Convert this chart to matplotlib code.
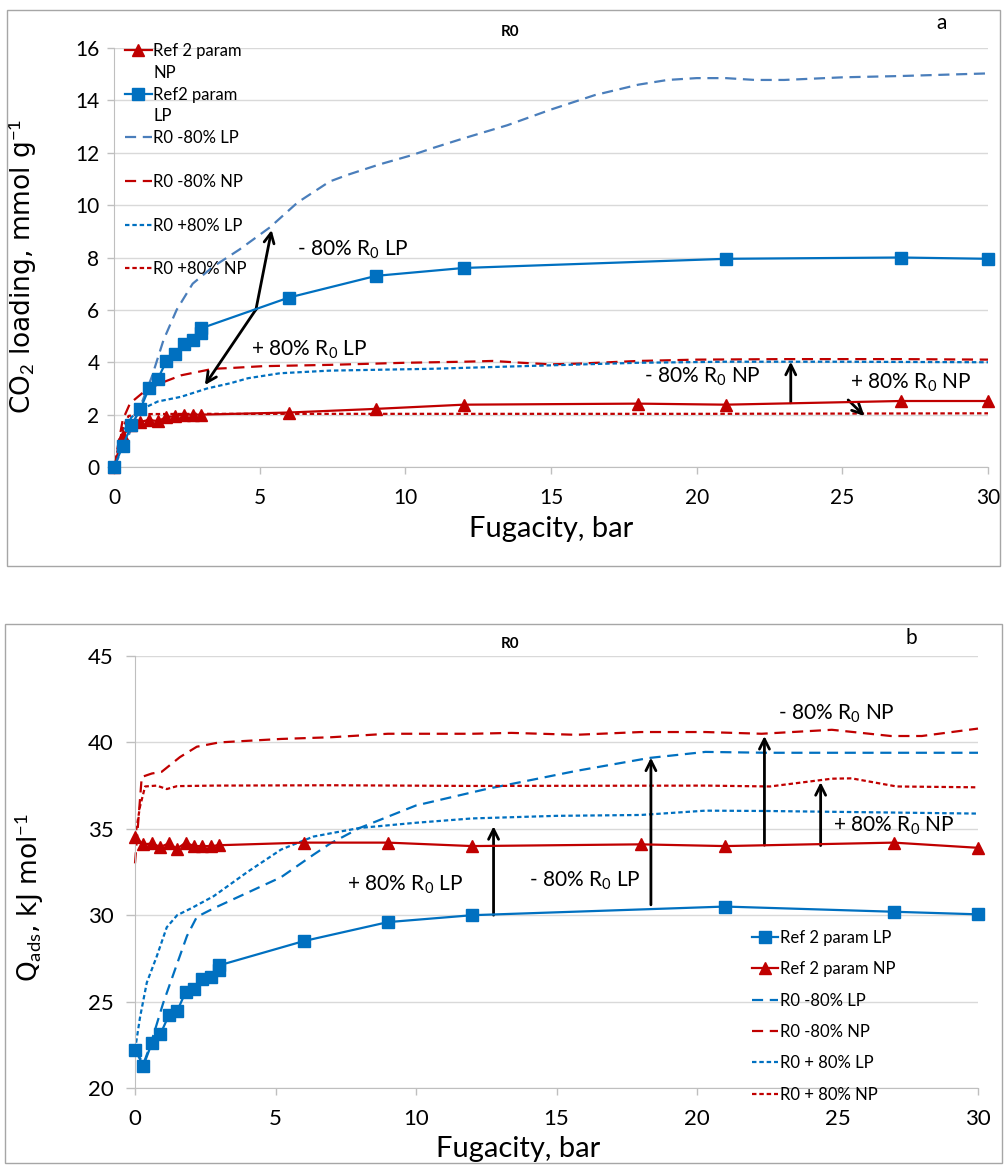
import matplotlib
matplotlib.use("Agg")
import matplotlib.pyplot as plt
from matplotlib.lines import Line2D
from matplotlib.patches import Rectangle

plt.rcParams['font.family'] = ['Lato', 'DejaVu Sans']
plt.rcParams['mathtext.fontset'] = 'custom'
plt.rcParams['mathtext.rm'] = 'Lato'
plt.rcParams['mathtext.it'] = 'Lato:italic'
plt.rcParams['mathtext.bf'] = 'Lato:bold'

BLUE = '#0070C0'
LBLUE = '#4A7EBB'
RED = '#C00000'

# ---------------- panel a : CO2 loading ----------------
a_ref_lp_x = [0, 0.3, 0.6, 0.9, 1.2, 1.5, 1.8, 2.1, 2.4, 2.7, 3.0, 3.0, 6, 9, 12, 21, 27, 30]
a_ref_lp_y = [0, 0.8, 1.6, 2.2, 3.0, 3.35, 4.05, 4.3, 4.7, 4.85, 5.1, 5.3, 6.47, 7.3, 7.6, 7.95, 8.0, 7.95]

a_ref_np_x = [0, 0.3, 0.6, 0.9, 1.2, 1.5, 1.8, 2.1, 2.4, 2.7, 3.0, 6, 9, 12, 18, 21, 27, 30]
a_ref_np_y = [0, 1.2, 1.6, 1.72, 1.8, 1.75, 1.9, 1.95, 2.0, 2.0, 2.0, 2.08, 2.22, 2.38, 2.42, 2.38, 2.52, 2.52]

a_m80_lp_x = [0, 0.5, 0.9, 1.3, 1.7, 2.15, 2.7, 3.4, 4.3, 5.35, 6.3, 7.4, 8.0, 9.1, 10.2, 11.0,
              12.0, 13.5, 15.0, 16.5, 18.0, 19.0, 20.0, 21.0, 22.0, 23.0, 25.0, 27.0, 30.0]
a_m80_lp_y = [0, 1.2, 2.3, 3.45, 4.85, 6.0, 7.0, 7.65, 8.3, 9.15, 10.1, 10.9, 11.15, 11.55, 11.9, 12.2,
              12.55, 13.05, 13.65, 14.2, 14.6, 14.78, 14.85, 14.85, 14.78, 14.78, 14.88, 14.93, 15.03]

a_m80_np_x = [0, 0.3, 0.55, 1.1, 1.6, 2.3, 3.4, 4.0, 5.1, 7.4, 10.0, 12.0, 13.0, 14.0, 15.0, 16.0,
              18.0, 20.0, 23.0, 27.0, 30.0]
a_m80_np_y = [0, 1.8, 2.43, 2.94, 3.2, 3.5, 3.75, 3.78, 3.85, 3.9, 3.98, 4.02, 4.05, 3.98, 3.92, 3.95,
              4.05, 4.1, 4.12, 4.12, 4.1]

a_p80_lp_x = [0, 0.3, 0.6, 0.9, 1.5, 2.3, 3.2, 4.0, 4.6, 5.7, 7.4, 10.9, 14.3, 18.0, 21.0, 25.0, 30.0]
a_p80_lp_y = [0, 1.4, 1.9, 2.18, 2.5, 2.68, 3.0, 3.2, 3.39, 3.58, 3.68, 3.75, 3.86, 3.98, 4.02, 4.02, 4.0]

a_p80_np_x = [0, 0.3, 0.5, 0.9, 3.0, 10.0, 20.0, 30.0]
a_p80_np_y = [0, 1.5, 1.95, 2.02, 2.03, 2.03, 2.03, 2.05]

# ---------------- panel b : heat of adsorption ----------------
b_ref_lp_x = [0, 0.3, 0.6, 0.9, 1.2, 1.5, 1.8, 2.1, 2.4, 2.7, 3.0, 3.0, 6, 9, 12, 21, 27, 30]
b_ref_lp_y = [22.2, 21.3, 22.6, 23.1, 24.2, 24.45, 25.55, 25.75, 26.3, 26.45, 26.85, 27.1,
              28.5, 29.6, 30.0, 30.5, 30.2, 30.05]

b_ref_np_x = [0, 0.3, 0.6, 0.9, 1.2, 1.5, 1.8, 2.1, 2.4, 2.7, 3.0, 6, 9, 12, 18, 21, 27, 30]
b_ref_np_y = [34.5, 34.1, 34.15, 33.95, 34.15, 33.85, 34.2, 34.0, 34.0, 34.0, 34.05,
              34.2, 34.2, 34.0, 34.1, 34.0, 34.2, 33.9]

b_m80_lp_x = [0, 0.3, 0.55, 1.0, 1.5, 1.85, 2.2, 2.8, 4.0, 5.2, 6.35, 6.95, 8.0, 10.0, 12.5,
              15.7, 18.3, 20.3, 22.5, 30.0]
b_m80_lp_y = [22.2, 21.4, 22.5, 24.9, 27.2, 28.8, 29.9, 30.4, 31.3, 32.2, 33.5, 34.15, 35.05,
              36.35, 37.3, 38.35, 39.1, 39.45, 39.4, 39.4]

b_m80_np_x = [0, 0.24, 0.6, 0.95, 1.6, 2.2, 3.0, 5.2, 7.0, 9, 12, 13.4, 15.7, 18, 20.3, 22.3,
              24.8, 26.9, 28, 30]
b_m80_np_y = [33.0, 38.0, 38.2, 38.3, 39.15, 39.75, 40.0, 40.2, 40.3, 40.5, 40.5, 40.55, 40.44,
              40.6, 40.6, 40.5, 40.73, 40.37, 40.37, 40.8]

b_p80_lp_x = [0, 0.18, 0.42, 0.77, 1.13, 1.5, 2.0, 2.8, 4.0, 5.2, 6.35, 7.0, 8.0, 10.0, 12.0,
              15.0, 18.0, 20.3, 22.5, 30.0]
b_p80_lp_y = [22.2, 24.1, 26.1, 27.6, 29.3, 30.0, 30.4, 31.1, 32.5, 33.8, 34.55, 34.75, 35.05,
              35.35, 35.6, 35.75, 35.8, 36.05, 36.03, 35.88]

b_p80_np_x = [0, 0.18, 0.36, 0.77, 1.13, 1.5, 2.8, 7, 12, 20.3, 22.6, 24.8, 25.5, 27.1, 30]
b_p80_np_y = [34.5, 36.3, 37.45, 37.5, 37.3, 37.47, 37.5, 37.52, 37.48, 37.5, 37.45, 37.9,
              37.92, 37.45, 37.4]

W, H = 1005, 1166
fig = plt.figure(figsize=(W / 100, H / 100), dpi=100)

def fx(px):
    return px / W

def fy(py):
    return 1 - py / H

# outer frames (pixel boxes: top 7..1000 x 10..566, bottom 5..1002 x 624..1163)
fig.patches.append(Rectangle((fx(7), fy(566)), fx(993), 556 / H, transform=fig.transFigure,
                             fill=False, edgecolor='#A6A6A6', lw=1))
fig.patches.append(Rectangle((fx(5), fy(1163)), fx(997), 539 / H, transform=fig.transFigure,
                             fill=False, edgecolor='#A6A6A6', lw=1))

ax1 = fig.add_axes([fx(114), fy(467), fx(874), 419 / H])
ax2 = fig.add_axes([fx(135), fy(1088), fx(843), 432 / H])

DASH = (0, (5, 3))
DOT = (0, (2, 1.3))


def style(ax, ylim, yticks):
    ax.set_xlim(0, 30)
    ax.set_ylim(*ylim)
    ax.set_xticks(range(0, 31, 5))
    ax.set_yticks(yticks)
    ax.yaxis.grid(True, color='#D9D9D9', lw=1)
    ax.set_axisbelow(True)
    for s in ['top', 'right']:
        ax.spines[s].set_visible(False)
    for s in ['left', 'bottom']:
        ax.spines[s].set_color('#BFBFBF')
    ax.tick_params(colors='#BFBFBF', labelcolor='black', length=5, width=1)
    ax.tick_params(axis='x', pad=10)


# panel a
ax1.plot(a_ref_np_x, a_ref_np_y, color=RED, lw=1.6, marker='^', ms=9, clip_on=False, zorder=5)
ax1.plot(a_ref_lp_x, a_ref_lp_y, color=BLUE, lw=1.6, marker='s', ms=9, clip_on=False, zorder=5)
ax1.plot(a_m80_lp_x, a_m80_lp_y, color=LBLUE, lw=1.6, ls=DASH, clip_on=False)
ax1.plot(a_m80_np_x, a_m80_np_y, color=RED, lw=1.6, ls=DASH, clip_on=False)
ax1.plot(a_p80_lp_x, a_p80_lp_y, color=BLUE, lw=1.6, ls=DOT, clip_on=False)
ax1.plot(a_p80_np_x, a_p80_np_y, color=RED, lw=1.6, ls=DOT, clip_on=False)
style(ax1, (0, 16), range(0, 17, 2))
ax1.tick_params(labelsize=15)
ax1.tick_params(axis='y', pad=5.5)
ax1.set_xlabel('Fugacity, bar', fontsize=21, labelpad=6)
ax1.set_ylabel('CO$_2$ loading, mmol g$^{-1}$', fontsize=19, family='DejaVu Sans')
ax1.yaxis.set_label_coords(-0.086, 0.48)

blank = Line2D([], [], color='none')
h1 = [Line2D([], [], color=RED, lw=1.6, marker='^', ms=9), blank,
      Line2D([], [], color=BLUE, lw=1.6, marker='s', ms=9), blank,
      Line2D([], [], color=LBLUE, lw=1.6, ls=DASH), blank,
      Line2D([], [], color=RED, lw=1.6, ls=DASH), blank,
      Line2D([], [], color=BLUE, lw=1.6, ls=DOT), blank,
      Line2D([], [], color=RED, lw=1.6, ls=DOT)]
l1 = ['Ref 2 param', 'NP', 'Ref2 param', 'LP', 'R0 -80% LP', ' ', 'R0 -80% NP', ' ',
      'R0 +80% LP', ' ', 'R0 +80% NP']
ax1.legend(h1, l1, loc='upper left', bbox_to_anchor=(0.0126, 1.012), frameon=False, fontsize=12,
           borderpad=0, borderaxespad=0, labelspacing=0.35, handlelength=1.6, handletextpad=0.1,
           numpoints=1)

arrow = dict(arrowstyle='->', lw=2, color='black', shrinkA=0, shrinkB=0, mutation_scale=18)
ax1.annotate('', xy=(5.41, 9.05), xytext=(4.87, 6.0), arrowprops=arrow)
ax1.annotate('', xy=(3.12, 3.13), xytext=(4.9, 6.06), arrowprops=arrow)
ax1.annotate('', xy=(23.23, 4.02), xytext=(23.23, 2.45), arrowprops=arrow)
ax1.annotate('', xy=(25.76, 1.95), xytext=(25.2, 2.56), arrowprops=arrow)
ax1.text(8.2, 8.28, '- 80% R$_0$ LP', ha='center', va='center', fontsize=15)
ax1.text(6.7, 4.47, '+ 80% R$_0$ LP', ha='center', va='center', fontsize=15)
ax1.text(20.2, 3.45, '- 80% R$_0$ NP', ha='center', va='center', fontsize=15)
ax1.text(27.35, 3.2, '+ 80% R$_0$ NP', ha='center', va='center', fontsize=15)

# panel b
ax2.plot(b_ref_lp_x, b_ref_lp_y, color=BLUE, lw=1.6, marker='s', ms=9, clip_on=False, zorder=5)
ax2.plot(b_ref_np_x, b_ref_np_y, color=RED, lw=1.6, marker='^', ms=9, clip_on=False, zorder=5)
ax2.plot(b_m80_lp_x, b_m80_lp_y, color=BLUE, lw=1.6, ls=DASH, clip_on=False)
ax2.plot(b_m80_np_x, b_m80_np_y, color=RED, lw=1.6, ls=DASH, clip_on=False)
ax2.plot(b_p80_lp_x, b_p80_lp_y, color=BLUE, lw=1.6, ls=DOT, clip_on=False)
ax2.plot(b_p80_np_x, b_p80_np_y, color=RED, lw=1.6, ls=DOT, clip_on=False)
style(ax2, (20, 45), range(20, 46, 5))
ax2.tick_params(labelsize=16)
ax2.tick_params(axis='y', length=6.5, pad=9)
ax2.set_xlabel('Fugacity, bar', fontsize=21, labelpad=5)
ax2.xaxis.label.set_x(0.455)
ax2.set_ylabel('Q$_\\mathrm{ads}$, kJ mol$^{-1}$', fontsize=19, family='DejaVu Sans')
ax2.yaxis.set_label_coords(-0.105, 0.44)

h2 = [Line2D([], [], color=BLUE, lw=1.6, marker='s', ms=9),
      Line2D([], [], color=RED, lw=1.6, marker='^', ms=9),
      Line2D([], [], color=BLUE, lw=1.6, ls=DASH),
      Line2D([], [], color=RED, lw=1.6, ls=DASH),
      Line2D([], [], color=BLUE, lw=1.6, ls=DOT),
      Line2D([], [], color=RED, lw=1.6, ls=DOT)]
l2 = ['Ref 2 param LP', 'Ref 2 param NP', 'R0 -80% LP', 'R0 -80% NP', 'R0 + 80% LP', 'R0 + 80% NP']
ax2.legend(h2, l2, loc='upper left', bbox_to_anchor=(0.7316, 0.366), frameon=False, fontsize=12,
           borderpad=0, borderaxespad=0, labelspacing=0.92, handlelength=1.6, handletextpad=0.1,
           numpoints=1)

ax2.annotate('', xy=(12.76, 35.15), xytext=(12.76, 30.0), arrowprops=arrow)
ax2.annotate('', xy=(18.36, 39.12), xytext=(18.36, 30.6), arrowprops=arrow)
ax2.annotate('', xy=(22.4, 40.37), xytext=(22.4, 34.05), arrowprops=arrow)
ax2.annotate('', xy=(24.4, 37.7), xytext=(24.4, 34.03), arrowprops=arrow)
ax2.text(9.6, 31.75, '+ 80% R$_0$ LP', ha='center', va='center', fontsize=15)
ax2.text(16.0, 32.0, '- 80% R$_0$ LP', ha='center', va='center', fontsize=15)
ax2.text(24.95, 41.65, '- 80% R$_0$ NP', ha='center', va='center', fontsize=15)
ax2.text(27.0, 35.15, '+ 80% R$_0$ NP', ha='center', va='center', fontsize=15)

# titles and panel letters
fig.text(fx(510), fy(32), 'R0', fontsize=11, fontweight='bold', ha='center', va='center')
fig.text(fx(942), fy(23), 'a', fontsize=15, ha='center', va='center')
fig.text(fx(510), fy(644), 'R0', fontsize=11, fontweight='bold', ha='center', va='center')
fig.text(fx(911), fy(638), 'b', fontsize=15, ha='center', va='center')

fig.savefig('out.png', dpi=100)
